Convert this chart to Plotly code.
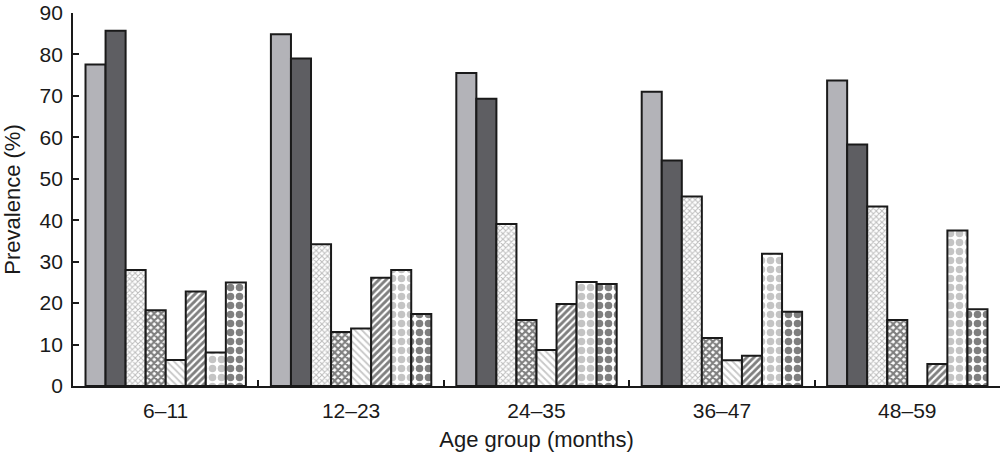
import plotly.graph_objects as go

age_groups = ["6–11", "12–23", "24–35", "36–47", "48–59"]
series_names = ["Series 1", "Series 2", "Series 3", "Series 4",
                "Series 5", "Series 6", "Series 7", "Series 8"]
s1 = [77.6, 84.9, 75.5, 71.0, 73.7]
s2 = [85.7, 79.0, 69.3, 54.4, 58.3]
s3 = [28.0, 34.2, 39.1, 45.7, 43.3]
s4 = [18.3, 13.0, 15.9, 11.6, 15.9]
s5 = [6.3, 13.9, 8.7, 6.2, 0.0]
s6 = [22.8, 26.1, 19.8, 7.3, 5.3]
s7 = [8.1, 28.0, 25.1, 31.9, 37.5]
s8 = [25.0, 17.4, 24.6, 17.9, 18.5]
series_values = [s1, s2, s3, s4, s5, s6, s7, s8]

styles = [
    dict(color="#b3b3b8", pattern=dict(shape="")),
    dict(color="#5e5e62", pattern=dict(shape="")),
    dict(color="white", pattern=dict(shape="x", fgcolor="#7a7a7a", bgcolor="white", size=4, solidity=0.45)),
    dict(color="white", pattern=dict(shape="x", fgcolor="#000000", bgcolor="white", size=5, solidity=0.65)),
    dict(color="white", pattern=dict(shape="\\", fgcolor="#8f8f8f", bgcolor="white", size=5, solidity=0.35)),
    dict(color="white", pattern=dict(shape="/", fgcolor="#000000", bgcolor="white", size=5, solidity=0.58)),
    dict(color="white", pattern=dict(shape=".", fgcolor="#8a8a8a", bgcolor="white", size=9, solidity=0.55)),
    dict(color="white", pattern=dict(shape=".", fgcolor="#000000", bgcolor="white", size=9, solidity=0.55)),
]

x_pos = list(range(len(age_groups)))
fig = go.Figure()
for name, vals, st in zip(series_names, series_values, styles):
    fig.add_trace(go.Bar(
        x=x_pos, y=vals, name=name,
        marker=dict(color=st["color"], pattern=st["pattern"],
                    line=dict(color="#1a1a1a", width=2)),
        showlegend=False,
    ))

font_family = "Liberation Sans, Arial, sans-serif"
fig.update_layout(
    width=1008, height=462,
    margin=dict(l=73, r=8, t=13, b=76),
    paper_bgcolor="white", plot_bgcolor="white",
    barmode="group", bargap=0.135, bargroupgap=0,
    font=dict(family=font_family, size=21, color="#1a1a1a"),
)
fig.update_xaxes(
    range=[-0.5, len(age_groups) - 0.5],
    tickvals=x_pos, ticktext=age_groups, ticks="",
    ticklabelstandoff=5,
    showline=True, linecolor="#1a1a1a", linewidth=1.8,
    showgrid=False, zeroline=False, automargin=False,
    minor=dict(tickvals=[i + 0.5 for i in x_pos[:-1]], ticks="inside",
               ticklen=6, tickcolor="#1a1a1a", tickwidth=1.5, showgrid=False),
    title=dict(text="Age group (months)", standoff=11, font=dict(size=22)),
    tickfont=dict(size=21),
)
fig.update_yaxes(
    range=[0, 90], dtick=10, ticks="inside", ticklen=6,
    tickcolor="#1a1a1a", tickwidth=1.5, ticklabelstandoff=4,
    showline=True, linecolor="#1a1a1a", linewidth=1.8,
    showgrid=False, zeroline=False, automargin=False,
    title=dict(text="Prevalence (%)", standoff=16, font=dict(size=22)),
    tickfont=dict(size=21),
)
fig.write_html("out.html", config={"displayModeBar": False},
               post_script="document.body.style.margin='0';")
